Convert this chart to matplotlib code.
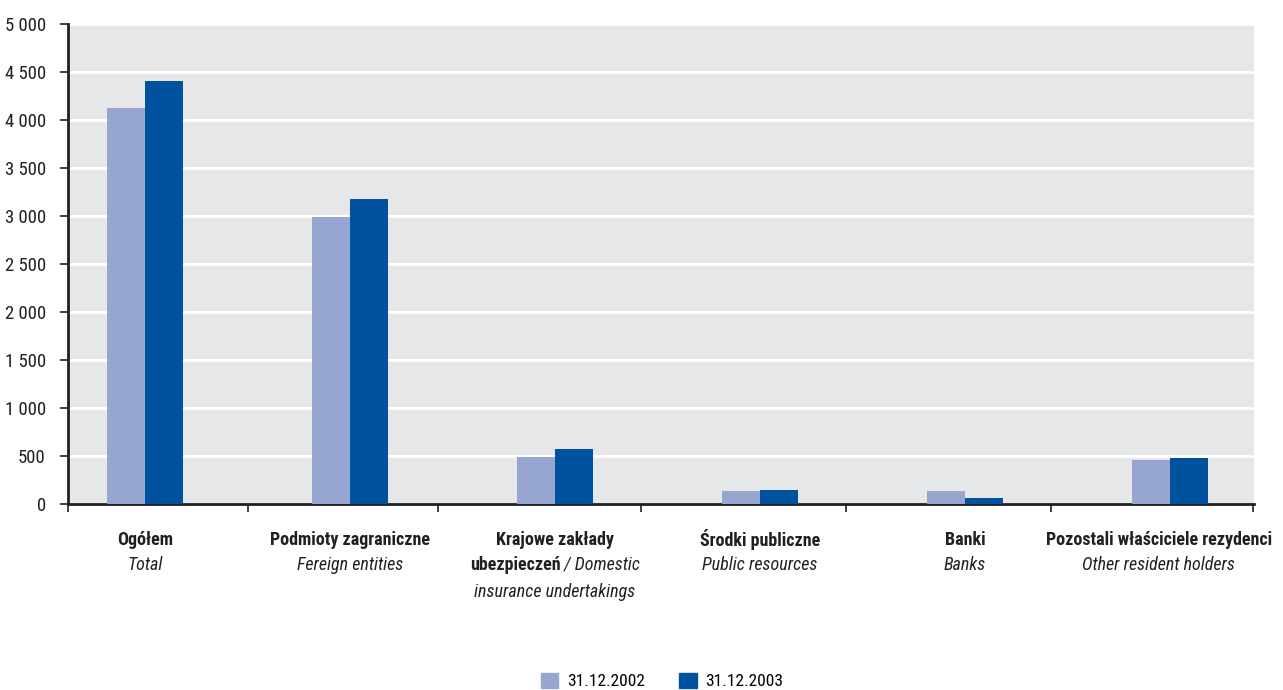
import numpy as np
import matplotlib
matplotlib.use("Agg")
import matplotlib.pyplot as plt
from matplotlib import font_manager
from matplotlib.patches import Patch

# condensed font, first one installed
names = {f.name for f in font_manager.fontManager.ttflist}
fam = "DejaVu Sans"
for cand in ["Roboto Condensed", "Fira Sans Condensed", "IBM Plex Sans Condensed",
             "Archivo Narrow", "Open Sans Condensed"]:
    if cand in names:
        fam = cand
        break
plt.rcParams['font.family'] = [fam, 'DejaVu Sans']

cat_pl = ["Ogółem", "Podmioty zagraniczne", "Krajowe zakłady",
          "Środki publiczne", "Banki", "Pozostali właściciele rezydenci"]
cat_en = ["Total", "Fereign entities", "insurance undertakings",
          "Public resources", "Banks", "Other resident holders"]
series = ["31.12.2002", "31.12.2003"]
v2002 = [4125, 2985, 490, 140, 135, 460]
v2003 = [4405, 3180, 575, 150, 62, 480]

c2002 = "#97A6D1"
c2003 = "#00529F"
grey = "#E6E7E9"
dark = "#231F20"
fs = 13

fig = plt.figure(figsize=(12.83, 6.90), dpi=100)
ax = fig.add_axes([68/1283, 1-504/690, (1254-68)/1283, (504-24)/690])
ax.set_facecolor(grey)

x = np.arange(len(cat_pl))
w = 0.185
ax.bar(x - w/2, v2002, w, color=c2002, zorder=3)
ax.bar(x + w/2, v2003, w, color=c2003, zorder=3)

ax.set_xlim(-0.376, 5.41)
ax.set_ylim(0, 5000)
ax.set_yticks(np.arange(0, 5001, 500))
ax.set_yticklabels([f"{v:,}".replace(",", " ") for v in range(0, 5001, 500)],
                   fontsize=13.5, color=dark)
ax.yaxis.grid(True, color="white", lw=2, zorder=1)
ax.set_axisbelow(True)
ax.tick_params(axis='y', length=6, width=1.2, color=dark, pad=10)

ax.set_xticks([-0.376, 0.5, 1.43, 2.42, 3.42, 4.42, 5.405])
ax.set_xticklabels([])
ax.tick_params(axis='x', length=6, width=1.2, color=dark)

for s in ["top", "right"]:
    ax.spines[s].set_visible(False)
for s in ["left", "bottom"]:
    ax.spines[s].set_color(dark)
    ax.spines[s].set_linewidth(2)

# category labels
tr = ax.get_xaxis_transform()
lx = [0, 1, 2, 3, 4, 4.945]
y1, y2, y3 = -0.075, -0.127, -0.183
for i in range(len(cat_pl)):
    ax.text(lx[i], y1, cat_pl[i], transform=tr, ha='center', va='center',
            fontsize=fs, fontweight='bold', color=dark)
    if i == 2:
        ax.text(lx[i], y3, cat_en[i], transform=tr, ha='center', va='center',
                fontsize=fs, style='italic', color=dark)
    else:
        ax.text(lx[i], y2, cat_en[i], transform=tr, ha='center', va='center',
                fontsize=fs, style='italic', color=dark)

# mixed bold / italic middle line for category 3
ta = ax.text(lx[2], y2, "ubezpieczeń", transform=tr, ha='left', va='center',
             fontsize=fs, fontweight='bold', color=dark)
tb = ax.text(lx[2], y2, " / Domestic", transform=tr, ha='left', va='center',
             fontsize=fs, style='italic', color=dark)
fig.canvas.draw()
r = fig.canvas.get_renderer()
wa = ta.get_window_extent(r).width
wb = tb.get_window_extent(r).width
x0 = ax.transData.transform((lx[2], 0))[0] - (wa + wb) / 2
inv = ax.transData.inverted()
ta.set_x(inv.transform((x0, 0))[0])
tb.set_x(inv.transform((x0 + wa, 0))[0])

handles = [Patch(color=c2002), Patch(color=c2003)]
fig.legend(handles, series, loc='center', bbox_to_anchor=(662/1283, 1-681/690),
           ncol=2, frameon=False, fontsize=12.5, handlelength=1.0, handleheight=1.0,
           columnspacing=2.0, handletextpad=0.5)

fig.savefig("out.png", dpi=100)
